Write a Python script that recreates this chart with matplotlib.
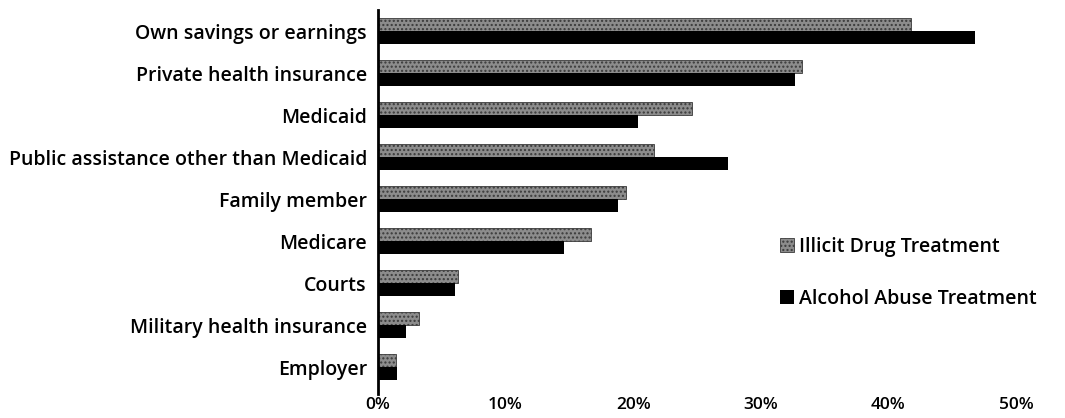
import numpy as np
import matplotlib.pyplot as plt

categories = ['Own savings or earnings', 'Private health insurance', 'Medicaid',
              'Public assistance other than Medicaid', 'Family member', 'Medicare',
              'Courts', 'Military health insurance', 'Employer']
illicit = [41.8, 33.2, 24.6, 21.6, 19.4, 16.7, 6.3, 3.2, 1.4]
alcohol = [46.8, 32.7, 20.4, 27.4, 18.8, 14.6, 6.0, 2.2, 1.5]
xticks = [0, 10, 20, 30, 40, 50]
xtick_labels = ['0%', '10%', '20%', '30%', '40%', '50%']

plt.rcParams['font.family'] = ['Open Sans', 'DejaVu Sans']

fig = plt.figure(figsize=(10.65, 4.18), dpi=100)
ax = fig.add_axes([378/1065, 1 - 394/418, (1016 - 378)/1065, 384/418])

y = np.arange(len(categories))
h = 0.31
ax.barh(y - 0.16, illicit, height=h, color='#8c8c8c', edgecolor='#3a3a3a',
        linewidth=0.6, hatch='....', label='Illicit Drug Treatment')
ax.barh(y + 0.16, alcohol, height=h, color='black', label='Alcohol Abuse Treatment')

ax.set_xlim(0, 50)
ax.set_ylim(8.64, -0.5)
ax.set_yticks(y)
ax.set_yticklabels(categories, fontsize=14, fontweight='semibold')
ax.set_xticks(xticks)
ax.set_xticklabels(xtick_labels, fontsize=12.5, fontweight='semibold')
ax.tick_params(axis='both', length=0)
ax.tick_params(axis='x', pad=2)
ax.tick_params(axis='y', pad=8)
for s in ['top', 'right', 'bottom']:
    ax.spines[s].set_visible(False)
ax.spines['left'].set_linewidth(2)

ax.legend(loc='center left', bbox_to_anchor=(780/1065, 1 - 273/418),
          bbox_transform=fig.transFigure, frameon=False,
          handlelength=0.7, handleheight=0.7, handletextpad=0.3,
          labelspacing=1.65, borderpad=0, borderaxespad=0,
          prop={'weight': 'semibold', 'size': 14})

plt.savefig('out.png', dpi=100)
